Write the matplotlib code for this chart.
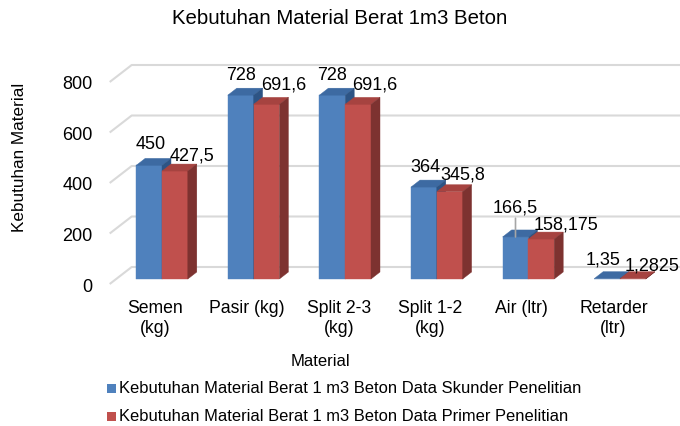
import matplotlib.pyplot as plt
from matplotlib.patches import Polygon, Rectangle

plt.rcParams["font.family"] = ["Liberation Sans", "DejaVu Sans"]

# ---------- data ----------
categories = ["Semen\n(kg)", "Pasir (kg)", "Split 2-3\n(kg)", "Split 1-2\n(kg)", "Air (ltr)", "Retarder\n(ltr)"]
skunder = [450, 728, 728, 364, 166.5, 1.35]
primer = [427.5, 691.6, 691.6, 345.8, 158.175, 1.2825]
series_names = [
    "Kebutuhan Material Berat 1 m3 Beton Data Skunder Penelitian",
    "Kebutuhan Material Berat 1 m3 Beton Data Primer Penelitian",
]
yticks = [0, 200, 400, 600, 800]

# ---------- styles ----------
front_cols = ["#4F81BD", "#C0504D"]
top_cols = ["#3D6AA2", "#A64340"]
side_cols = ["#2D5485", "#7D3230"]
grid_col = "#D9D9D9"
# label offsets (pixels) for each bar
blue_off = [(2, 22), (0, 21), (0, 21), (2, 21), (0, 30), (-4, 20)]
red_off = [(17, 16), (17, 20), (17, 20), (13, 18), (25, 15), (19, 14)]

W, H = 680, 427
fig = plt.figure(figsize=(W / 100, H / 100), dpi=100)
ax = fig.add_axes([0, 0, 1, 1])
ax.axis("off")

# mapping of the front plane of the bars
x0_px, cat_px = 162, 91.6
y0_px, val_px = 280, 0.2525
ax.set_xlim(-x0_px / cat_px, (W - x0_px) / cat_px)
ax.set_ylim((y0_px - H) / val_px, y0_px / val_px)


def dx(px):
    return px / cat_px


def dy(px):
    return px / val_px


bw = dx(25.8)
depth = (dx(9), dy(7))
front = (dx(-6.5), dy(-5))
back = (dx(15.5), dy(12))
x_left = -0.5
x_right = ax.get_xlim()[1]

# ---------- walls / gridlines ----------
for v in yticks:
    xs = [x_left + front[0], x_left + back[0], x_right]
    ys = [v + front[1], v + back[1], v + back[1]]
    ax.plot(xs, ys, color=grid_col, lw=1.5, zorder=1, solid_capstyle="butt")
    ax.text(x_left + front[0] - dx(17), v + front[1] - dy(2), f"{v}",
            ha="right", va="center", fontsize=13, color="#000000")


# ---------- bars ----------
def bar3d(a, b, h, k):
    ddx, ddy = depth
    faces = [
        ([(a, 0), (b, 0), (b, h), (a, h)], front_cols[k]),
        ([(a, h), (b, h), (b + ddx, h + ddy), (a + ddx, h + ddy)], top_cols[k]),
        ([(b, 0), (b + ddx, ddy), (b + ddx, h + ddy), (b, h)], side_cols[k]),
    ]
    for pts, c in faces:
        ax.add_patch(Polygon(pts, closed=True, facecolor=c, edgecolor=c, lw=0.3, zorder=3))


def fmt(v):
    return f"{v:g}".replace(".", ",")


for i in range(len(categories)):
    for k, (vals, offs) in enumerate([(skunder, blue_off), (primer, red_off)]):
        a = i - bw if k == 0 else i
        b = a + bw
        h = vals[i]
        bar3d(a, b, h, k)
        ox, oy = offs[i]
        arrow = None
        if oy >= 28:
            arrow = dict(arrowstyle="-", color="#A6A6A6", lw=1.2, shrinkA=0, shrinkB=0)
        ax.annotate(fmt(h), xy=((a + b) / 2, h), xytext=(ox, oy), textcoords="offset pixels",
                    ha="center", va="center", fontsize=13, zorder=5, arrowprops=arrow)

    ax.text(i - dx(6.5), dy(y0_px - 300), categories[i], ha="center", va="top",
            multialignment="center", linespacing=1.25, fontsize=12.7)

# ---------- titles ----------
fig.text(340 / W, 1 - 18 / H, "Kebutuhan Material Berat 1m3 Beton", ha="center", va="center", fontsize=14.7)
fig.text(20 / W, 1 - 157 / H, "Kebutuhan Material", ha="center", va="center", rotation=90, fontsize=12.3)
fig.text(320 / W, 1 - 362 / H, "Material", ha="center", va="center", fontsize=12)

# ---------- legend ----------
for k, (name, yc) in enumerate(zip(series_names, [389, 417])):
    fig.add_artist(Rectangle((107 / W, 1 - (yc + 4.5) / H), 9 / W, 9 / H, transform=fig.transFigure,
                             facecolor=front_cols[k], edgecolor="none"))
    fig.text(119 / W, 1 - yc / H, name, ha="left", va="center", fontsize=11.85)

fig.savefig("out.png", dpi=100)
